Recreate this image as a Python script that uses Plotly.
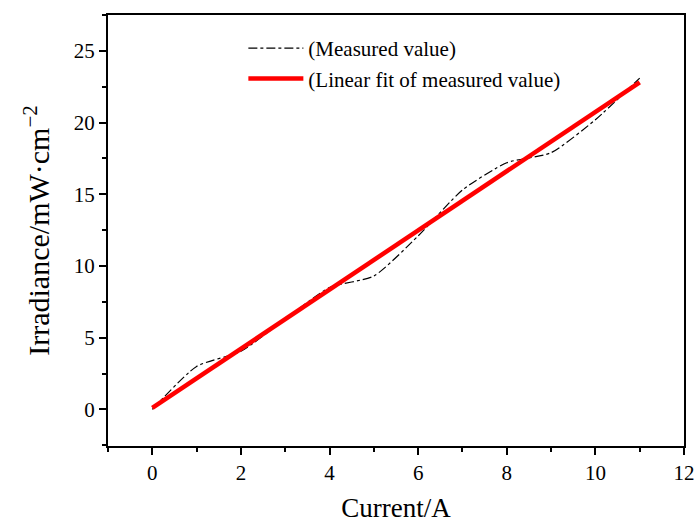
import plotly.graph_objects as go

current = [0, 1, 2, 3, 4, 5, 6, 7, 8, 9, 10, 11]
measured = [0.0, 3.0, 4.05, 6.3, 8.5, 9.3, 12.1, 15.3, 17.2, 17.9, 20.2, 23.1]
fit_x = [0, 11]
fit_y = [0.1, 22.8]

font = "Liberation Serif, Times New Roman, serif"

fig = go.Figure()
fig.add_trace(go.Scatter(x=current, y=measured, mode="lines",
                         line=dict(color="black", width=1.2, dash="dashdot",
                                   shape="spline", smoothing=0.6),
                         name="(Measured value)"))
fig.add_trace(go.Scatter(x=fit_x, y=fit_y, mode="lines",
                         line=dict(color="#ff0000", width=4.5),
                         name="(Linear fit of measured value)"))

axis_common = dict(showline=True, linecolor="black", linewidth=2, mirror=True,
                   ticks="outside", tickcolor="black", tickwidth=1.5, ticklen=7,
                   showgrid=False, zeroline=False, automargin=False,
                   tickfont=dict(family=font, size=21, color="black"))
fig.update_xaxes(range=[-1, 12], tickmode="linear", tick0=0, dtick=2,
                 minor=dict(ticks="outside", dtick=1, ticklen=4, tickcolor="black", tickwidth=1.5),
                 title=dict(text="Current/A", font=dict(family=font, size=27, color="black"), standoff=20),
                 **axis_common)
fig.update_yaxes(range=[-2.55, 27.5], tickmode="linear", tick0=0, dtick=5,
                 minor=dict(ticks="outside", dtick=2.5, ticklen=4, tickcolor="black", tickwidth=1.5),
                 title=dict(text="Irradiance/mW·cm<sup>−2</sup>", font=dict(family=font, size=30, color="black"), standoff=15),
                 **axis_common)
fig.update_layout(width=696, height=523, margin=dict(l=108, r=12, t=15, b=77),
                  plot_bgcolor="white", paper_bgcolor="white",
                  legend=dict(x=0.235, y=0.97, xanchor="left", yanchor="top",
                              bgcolor="rgba(0,0,0,0)", borderwidth=0,
                              font=dict(family=font, size=21, color="black"),
                              tracegroupgap=0, itemwidth=55))
fig.write_html("out.html")
